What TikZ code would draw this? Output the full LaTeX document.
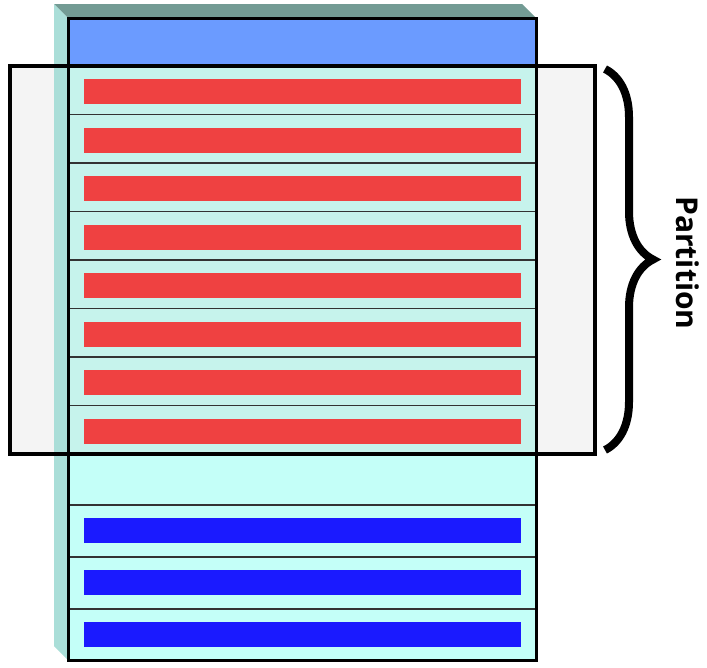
\documentclass[tikz,border=0pt]{standalone}
\usepackage{fontspec}
\setsansfont{Open Sans}
\usepackage{tikz}
\usetikzlibrary{decorations.pathreplacing}
\definecolor{HeaderBlue}{RGB}{107,155,255}
\definecolor{RowCyan}{RGB}{196,255,248}
\definecolor{RowCyanDim}{RGB}{198,243,236}
\definecolor{BarRed}{RGB}{239,65,65}
\definecolor{BarBlue}{RGB}{26,26,255}
\definecolor{FaceTop}{RGB}{115,155,148}
\definecolor{FaceSide}{RGB}{170,222,216}
\definecolor{PartGray}{RGB}{244,244,244}

\begin{document}
\begin{tikzpicture}[x=1pt, y=-1pt,
  row/.style={draw=black!80, line width=1.6pt},
  redbar/.style={fill=BarRed},
  bluebar/.style={fill=BarBlue},
  frame/.style={draw=black, line width=3pt},
  brace/.style={decorate, decoration={brace, amplitude=48pt}, line width=8pt},
  label/.style={font=\sffamily\bfseries\fontsize{30}{30}\selectfont, rotate=-90},
]
\useasboundingbox (0,0) rectangle (707,667);

% partition background
\fill[PartGray] (10,66) rectangle (595,454);

% 3d faces of the column
\fill[FaceTop] (54,4) -- (522,4) -- (536,18) -- (68,18) -- cycle;
\fill[FaceSide] (54,4) -- (68,18) -- (68,660) -- (54,646) -- cycle;

% header
\fill[HeaderBlue] (68,18) rectangle (536,66);

% rows inside the partition
\foreach \i in {0,...,7} {
  \pgfmathsetmacro\rtop{66+48.5*\i}
  \draw[row, fill=RowCyanDim] (68,\rtop) rectangle (536,\rtop+48.5);
  \fill[redbar] (84,\rtop+13) rectangle (521,\rtop+38);
}

% empty row, then the rows below
\draw[row, fill=RowCyan] (68,454) rectangle (536,505);
\foreach \rtop in {505,557,609} {
  \draw[row, fill=RowCyan] (68,\rtop) rectangle (536,\rtop+52);
  \fill[bluebar] (84,\rtop+13) rectangle (521,\rtop+38);
}

% outlines
\draw[frame] (68,18) rectangle (536,660);
\draw[frame] (68,66) -- (536,66);
\draw[frame, line width=3.5pt] (10,66) rectangle (595,454);

% brace and label
\coordinate (ptop) at (605,69);
\coordinate (pbot) at (605,450);
\draw[brace] (ptop) -- (pbot);
\node[label] (part) at (688,263) {Partition};
\end{tikzpicture}
\end{document}
